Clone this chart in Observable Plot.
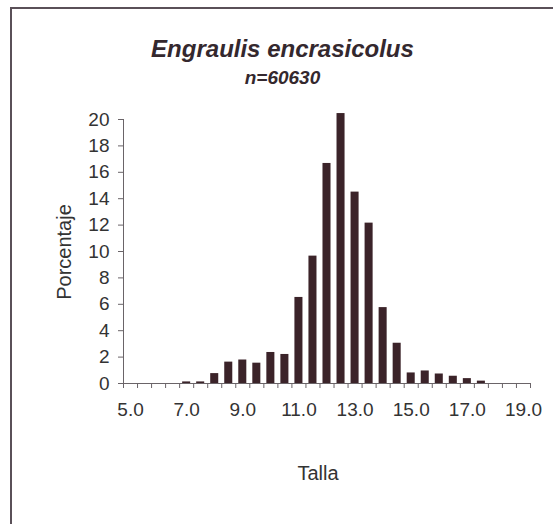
<!DOCTYPE html>
<html>
<head>
<meta charset="utf-8">
<script src="https://cdn.jsdelivr.net/npm/d3@7"></script>
<script src="https://cdn.jsdelivr.net/npm/@observablehq/plot@0.6"></script>
<style>
  html, body { margin: 0; padding: 0; background: #fff; }
  #wrap { position: relative; width: 553px; height: 524px; overflow: hidden; font-family: "Liberation Sans", Arial, sans-serif; color: #333; }
  #wrap svg { position: absolute; left: 0; top: 0; }
  .frame { position: absolute; left: 10px; top: 7px; width: 600px; height: 600px; border-top: 2px solid #5a5058; border-left: 2px solid #5a5058; }
  .t { position: absolute; white-space: nowrap; line-height: 1; }
  #title { left: 0; width: 565px; top: 37px; text-align: center; font-size: 24px; font-weight: bold; font-style: italic; color: #34282e; }
  #sub { left: 0; width: 565px; top: 68px; text-align: center; font-size: 19px; font-weight: bold; font-style: italic; color: #34282e; }
  #xlab { left: 318px; top: 463px; transform: translateX(-50%); font-size: 20px; }
  #ylab { left: 64px; top: 252px; transform: translate(-50%, -50%) rotate(-90deg); font-size: 20px; }
</style>
</head>
<body>
<div id="wrap">
  <div class="frame"></div>
  <div class="t" id="title"></div>
  <div class="t" id="sub"></div>
  <div class="t" id="xlab"></div>
  <div class="t" id="ylab"></div>
</div>
<script>
const titleText = "Engraulis encrasicolus";
const subtitleText = "n=60630";
const xTitle = "Talla";
const yTitle = "Porcentaje";

const tallas = [5.0, 5.5, 6.0, 6.5, 7.0, 7.5, 8.0, 8.5, 9.0, 9.5, 10.0, 10.5, 11.0, 11.5, 12.0, 12.5, 13.0, 13.5, 14.0, 14.5, 15.0, 15.5, 16.0, 16.5, 17.0, 17.5, 18.0, 18.5, 19.0];
const porcentajes = [0, 0, 0, 0, 0.12, 0.12, 0.75, 1.62, 1.78, 1.54, 2.35, 2.2, 6.52, 9.65, 16.67, 20.45, 14.5, 12.15, 5.75, 3.05, 0.8, 0.95, 0.72, 0.55, 0.37, 0.18, 0, 0, 0];
const xTickLabels = [5.0, 7.0, 9.0, 11.0, 13.0, 15.0, 17.0, 19.0];
const yTickValues = [0, 2, 4, 6, 8, 10, 12, 14, 16, 18, 20];

document.getElementById("title").textContent = titleText;
document.getElementById("sub").textContent = subtitleText;
document.getElementById("xlab").textContent = xTitle;
document.getElementById("ylab").textContent = yTitle;

const data = tallas.map((t, i) => ({t, v: porcentajes[i]}));
const half = 0.25;
const bounds = tallas.map(t => t - half).concat([tallas[tallas.length - 1] + half]);
const xMin = bounds[0], xMax = bounds[bounds.length - 1];
const lineColor = "#6a6468";

const chart = Plot.plot({
  width: 553,
  height: 524,
  marginLeft: 123,
  marginRight: 23,
  marginTop: 119,
  marginBottom: 141,
  style: {background: "transparent", fontFamily: "'Liberation Sans', Arial, sans-serif", color: "#333", overflow: "visible"},
  x: {type: "linear", domain: [xMin, xMax]},
  y: {domain: [0, 20]},
  marks: [
    Plot.rectY(data, {x1: d => d.t - half, x2: d => d.t + half, y: "v", insetLeft: 3, insetRight: 3, fill: "#3b2329", clip: false}),
    Plot.ruleY([0], {stroke: lineColor}),
    Plot.ruleX([xMin], {y1: 0, y2: 20, stroke: lineColor}),
    Plot.axisX({ticks: bounds, tickFormat: () => "", tickSize: 5, stroke: lineColor, label: null}),
    Plot.axisX({ticks: xTickLabels, tickFormat: d => d.toFixed(1), tickSize: 0, tickPadding: 19, fontSize: 19, label: null}),
    Plot.axisY({ticks: yTickValues, tickSize: 5, tickPadding: 9, fontSize: 19, stroke: lineColor, label: null})
  ]
});
document.getElementById("wrap").appendChild(chart);
</script>
</body>
</html>
